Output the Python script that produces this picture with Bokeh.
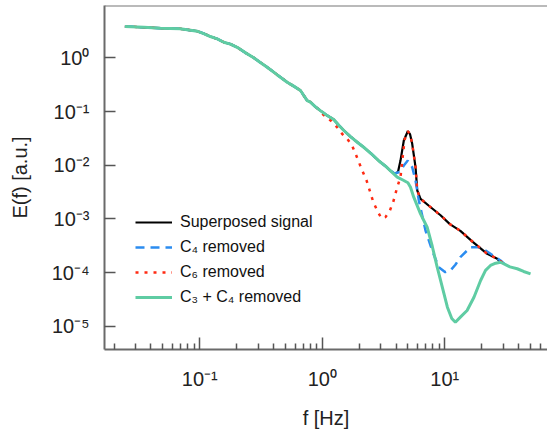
from bokeh.plotting import figure
from bokeh.models import Range1d, Legend, LegendItem, Span, FixedTicker, CustomJSTickFormatter
from bokeh.embed import file_html
from bokeh.resources import INLINE

# ---- data ----
# low-frequency part shared by all four spectra
common_f = [0.0245, 0.035, 0.0478, 0.0695, 0.0953, 0.109, 0.122, 0.139, 0.157, 0.178, 0.202,
            0.235, 0.276, 0.31, 0.355, 0.43, 0.517, 0.58, 0.664, 0.70, 0.753, 0.80, 0.88, 0.966]
common_E = [3.83, 3.70, 3.56, 3.47, 3.13, 2.80, 2.49, 2.25, 1.95, 1.80, 1.57,
            1.25, 1.00, 0.83, 0.668, 0.48, 0.351, 0.30, 0.246, 0.205, 0.160, 0.150, 0.122, 0.104]

# part shared by superposed, C4 removed and C3+C4 removed
mid_f = [1.08, 1.24, 1.37, 1.50, 1.70, 1.93, 2.18, 2.5, 2.9, 3.3, 3.61]
mid_E = [0.086, 0.071, 0.055, 0.0443, 0.034, 0.0268, 0.0216, 0.0165, 0.0120, 0.0095, 0.00783]

# C3 + C4 removed (tail)
green_f = [4.09, 4.63, 5.0, 5.25, 5.58, 6.34, 7.18, 7.9, 8.67, 9.53, 10.5, 11.4, 12.2, 13.4,
           15.2, 17.3, 19.6, 21.5, 23.6, 26.0, 28.5, 31.0, 34.0, 39.0, 44.0, 50.1]
green_E = [0.00598, 0.00519, 0.0047, 0.00389, 0.00254, 0.00124, 0.00070, 0.00031, 0.000126,
           0.000054, 0.0000227, 0.0000140, 0.0000119, 0.0000148, 0.0000197, 0.0000348,
           0.0000713, 0.000110, 0.000136, 0.000150, 0.000156, 0.000142, 0.000128, 0.000118,
           0.000105, 0.000095]

# superposed signal (tail)
black_f = [3.9, 4.15, 4.35, 4.63, 4.99, 5.2, 5.42, 5.77, 5.96, 6.34, 7.5, 9.23, 11.0, 13.4,
           17.0, 22.2, 26.8, 28.5]
black_E = [0.0069, 0.0075, 0.0122, 0.0289, 0.0430, 0.038, 0.0250, 0.00918, 0.00338, 0.00237,
           0.00172, 0.00117, 0.00080, 0.00060, 0.00037, 0.000224, 0.000181, 0.000156]

# C4 removed (tail)
blue_f = [3.9, 4.3, 4.63, 4.99, 5.42, 5.77, 6.14, 6.96, 7.89, 8.93, 10.1, 11.1, 12.2, 13.4,
          16.2, 19.6, 23.6, 28.5, 31.0]
blue_E = [0.0070, 0.0075, 0.00987, 0.0122, 0.00918, 0.00519, 0.0022, 0.000608, 0.000258,
          0.000126, 0.000102, 0.000109, 0.000140, 0.000194, 0.000297, 0.000297, 0.000224,
          0.000168, 0.000142]

# C6 removed (tail, departs near 1 Hz)
red_f = [1.0, 1.17, 1.32, 1.45, 1.60, 1.75, 1.87, 1.99, 2.12, 2.30, 2.44, 2.61, 2.81, 3.04,
         3.28, 3.56, 3.79, 4.09, 4.35, 4.50, 4.70, 4.99, 5.2, 5.42, 5.77, 5.96, 6.34, 7.5,
         9.23, 11.0, 13.4, 17.0, 22.2, 26.8, 30.0]
red_E = [0.0906, 0.068, 0.051, 0.0385, 0.031, 0.0233, 0.0163, 0.0114, 0.00797, 0.00519,
         0.00338, 0.00205, 0.00143, 0.00102, 0.00108, 0.00143, 0.00205, 0.00389, 0.00598,
         0.0122, 0.030, 0.043, 0.038, 0.025, 0.00918, 0.00338, 0.00237, 0.00172, 0.00117,
         0.00080, 0.00060, 0.00037, 0.000224, 0.000181, 0.000150]

x_ticks = [0.1, 1, 10]
x_minor = [0.02, 0.03, 0.04, 0.05, 0.06, 0.07, 0.08, 0.09,
           0.2, 0.3, 0.4, 0.5, 0.6, 0.7, 0.8, 0.9,
           2, 3, 4, 5, 6, 7, 8, 9, 20, 30, 40, 50, 60]
y_ticks = [1e-5, 1e-4, 1e-3, 1e-2, 1e-1, 1]

labels = ["Superposed signal", "C\u2084 removed", "C\u2086 removed", "C\u2083 + C\u2084 removed"]

# ---- figure ----
FONT = "Liberation Sans"
p = figure(width=547, height=435, x_axis_type="log", y_axis_type="log",
           x_range=Range1d(0.0167, 68.9), y_range=Range1d(3.7e-6, 9.42),
           output_backend="svg", toolbar_location=None,
           min_border_left=104, min_border_right=0, min_border_top=5, min_border_bottom=86)
p.outline_line_color = None
p.xgrid.visible = False
p.ygrid.visible = False

r_black = p.line(common_f + mid_f + black_f, common_E + mid_E + black_E,
                 line_color="black", line_width=2.2)
r_blue = p.line(common_f + mid_f + blue_f, common_E + mid_E + blue_E,
                line_color="#2b8cf0", line_width=2.5, line_dash="9 6")
r_red = p.line(common_f + red_f, common_E + red_E,
               line_color="#ff2a12", line_width=2.5, line_dash="3 6")
r_green = p.line(common_f + mid_f + green_f, common_E + mid_E + green_E,
                 line_color="#5fcca3", line_width=3)

top_line = Span(location=9.42, dimension="width", line_color="#777777", line_width=2)
p.add_layout(top_line)

fmt = CustomJSTickFormatter(code="""
const sup = {"-":"\u207b","0":"\u2070","1":"\u00b9","2":"\u00b2","3":"\u00b3","4":"\u2074",
             "5":"\u2075","6":"\u2076","7":"\u2077","8":"\u2078","9":"\u2079"};
const e = Math.round(Math.log10(tick));
return "10" + String(e).split("").map(c => sup[c]).join("");
""")

for ax in (p.xaxis[0], p.yaxis[0]):
    ax.formatter = fmt
    ax.axis_line_color = "#6a6a6a"
    ax.axis_line_width = 2
    ax.major_tick_line_color = "#555555"
    ax.major_tick_line_width = 1.5
    ax.minor_tick_line_color = "#555555"
    ax.minor_tick_line_width = 1.5
    ax.major_tick_out = 0
    ax.minor_tick_out = 0
    ax.major_label_text_font = FONT
    ax.major_label_text_font_size = "20px"
    ax.major_label_text_color = "#222222"
    ax.axis_label_text_font = FONT
    ax.axis_label_text_font_size = "20px"
    ax.axis_label_text_font_style = "normal"
    ax.axis_label_text_color = "#222222"

p.xaxis.ticker = FixedTicker(ticks=x_ticks, minor_ticks=x_minor)
p.yaxis.ticker = FixedTicker(ticks=y_ticks, minor_ticks=[])
p.xaxis.major_tick_in = 12
p.xaxis.minor_tick_in = 6
p.yaxis.major_tick_in = 11
p.yaxis.minor_tick_in = 0
p.xaxis.major_label_standoff = 18
p.yaxis.major_label_standoff = 15
p.xaxis.axis_label = "f [Hz]"
p.yaxis.axis_label = "E(f) [a.u.]"
p.xaxis.axis_label_standoff = 14
p.yaxis.axis_label_standoff = 18

legend = Legend(items=[LegendItem(label=labels[0], renderers=[r_black]),
                       LegendItem(label=labels[1], renderers=[r_blue]),
                       LegendItem(label=labels[2], renderers=[r_red]),
                       LegendItem(label=labels[3], renderers=[r_green])],
                location=(31, 42))
legend.border_line_color = None
legend.background_fill_alpha = 0
legend.padding = 0
legend.margin = 0
legend.spacing = 5
legend.glyph_height = 20
legend.label_height = 20
legend.glyph_width = 37
legend.label_standoff = 8
legend.label_text_font = FONT
legend.label_text_font_size = "16px"
legend.label_text_color = "#111111"
p.add_layout(legend)

open("out.html", "w").write(file_html(p, INLINE))
